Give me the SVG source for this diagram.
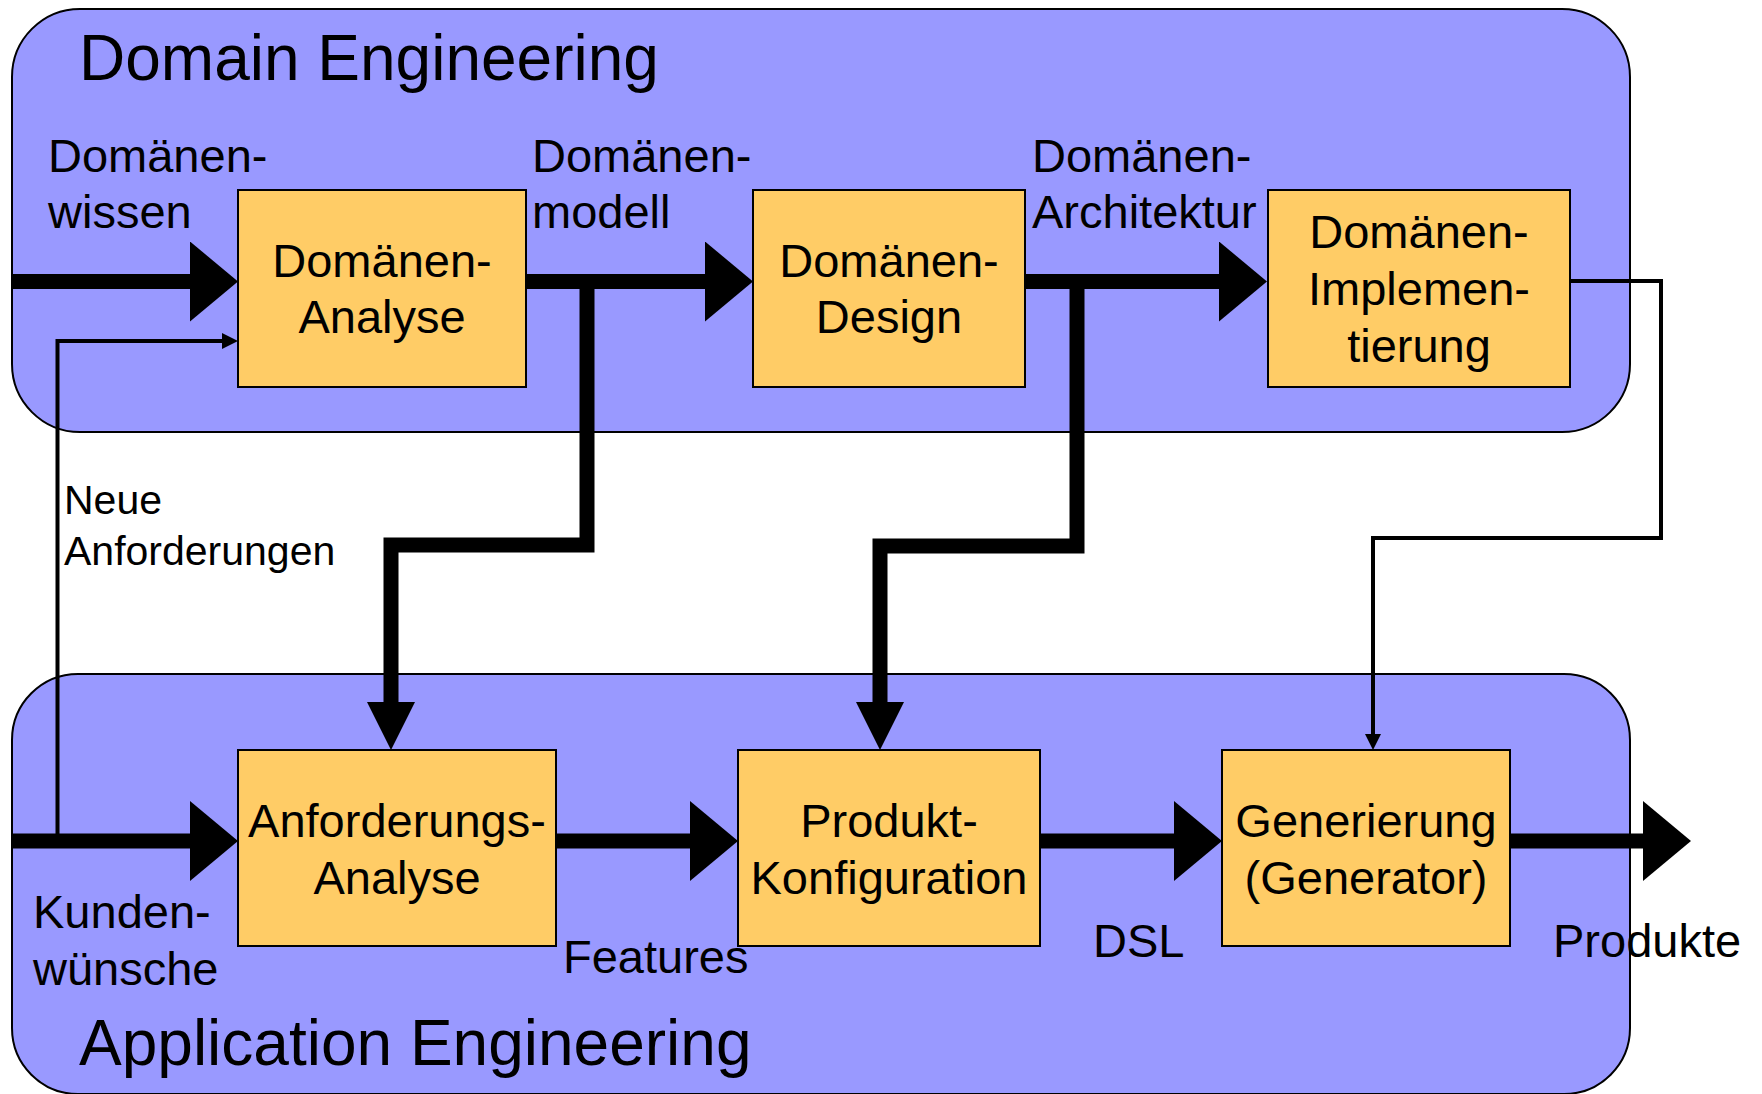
<svg xmlns="http://www.w3.org/2000/svg" width="1762" height="1094" viewBox="0 0 1762 1094">
  <style>
    text { font-family: "Liberation Sans", Arial, Helvetica, sans-serif; fill: #000; }
    .title { font-size: 64px; }
    .lbl { font-size: 47px; }
    .small { font-size: 41px; }
    .mid { text-anchor: middle; }
    .area { fill: #9999ff; stroke: #000; stroke-width: 2; }
    .box { fill: #ffcc66; stroke: #000; stroke-width: 2; }
    .thick { fill: none; stroke: #000; stroke-width: 15; stroke-linejoin: miter; }
    .thin { fill: none; stroke: #000; stroke-width: 4; stroke-linejoin: miter; }
  </style>
  <defs>
    <!-- big filled arrowhead for the main horizontal flow -->
    <marker id="bigHead" markerUnits="userSpaceOnUse" viewBox="0 0 48 80" markerWidth="48" markerHeight="80" refX="18" refY="40" orient="auto">
      <path d="M0,0 L48,40 L0,80 Z" fill="#000"/>
    </marker>
    <!-- narrower filled arrowhead for the cross-lane links -->
    <marker id="dropHead" markerUnits="userSpaceOnUse" viewBox="0 0 48 48" markerWidth="48" markerHeight="48" refX="18" refY="24" orient="auto">
      <path d="M0,0 L48,24 L0,48 Z" fill="#000"/>
    </marker>
    <!-- small arrowhead for thin lines -->
    <marker id="smallHead" markerUnits="userSpaceOnUse" viewBox="0 0 16 16" markerWidth="16" markerHeight="16" refX="8" refY="8" orient="auto">
      <path d="M0,0 L16,8 L0,16 Z" fill="#000"/>
    </marker>
  </defs>

  <!-- swimlanes -->
  <g id="domain-engineering">
    <rect class="area" x="12" y="9" width="1618" height="423" rx="68" ry="68"/>
    <text class="title" x="79" y="80">Domain Engineering</text>
  </g>
  <g id="application-engineering">
    <rect class="area" x="12" y="674" width="1618" height="420" rx="66" ry="66"/>
    <text class="title" x="79" y="1065">Application Engineering</text>
  </g>

  <!-- connectors -->
  <g id="connectors">
    <path class="thick" d="M12,281.5 H208" marker-end="url(#bigHead)"/>
    <path class="thick" d="M526,281.5 H723" marker-end="url(#bigHead)"/>
    <path class="thick" d="M1025,281.5 H1237" marker-end="url(#bigHead)"/>
    <path class="thick" d="M587,281.5 V545 H391 V720" marker-end="url(#dropHead)"/>
    <path class="thick" d="M1077,281.5 V546 H880 V720" marker-end="url(#dropHead)"/>
    <path class="thin" d="M1570,281 H1661 V538 H1373 V742" marker-end="url(#smallHead)"/>
    <path class="thick" d="M12,841 H208" marker-end="url(#bigHead)"/>
    <path class="thin" d="M57.5,841 V341 H230" marker-end="url(#smallHead)"/>
    <path class="thick" d="M556,841 H708" marker-end="url(#bigHead)"/>
    <path class="thick" d="M1040,841 H1192" marker-end="url(#bigHead)"/>
    <path class="thick" d="M1510,841 H1661" marker-end="url(#bigHead)"/>
  </g>

  <!-- connector labels -->
  <g id="labels">
    <text class="lbl" x="48" y="172">Domänen-</text>
    <text class="lbl" x="48" y="228">wissen</text>
    <text class="lbl" x="532" y="172">Domänen-</text>
    <text class="lbl" x="532" y="228">modell</text>
    <text class="lbl" x="1032" y="172">Domänen-</text>
    <text class="lbl" x="1032" y="228">Architektur</text>
    <text class="small" x="64" y="514">Neue</text>
    <text class="small" x="64" y="565">Anforderungen</text>
    <text class="lbl" x="33" y="928">Kunden-</text>
    <text class="lbl" x="33" y="985">wünsche</text>
    <text class="lbl" x="563" y="973">Features</text>
    <text class="lbl" x="1093" y="957">DSL</text>
    <text class="lbl" x="1553" y="957">Produkte</text>
  </g>

  <!-- process steps -->
  <g id="domaenen-analyse">
    <rect class="box" x="238" y="190" width="288" height="197"/>
    <text class="lbl mid" x="382" y="277">Domänen-</text>
    <text class="lbl mid" x="382" y="333">Analyse</text>
  </g>
  <g id="domaenen-design">
    <rect class="box" x="753" y="190" width="272" height="197"/>
    <text class="lbl mid" x="889" y="277">Domänen-</text>
    <text class="lbl mid" x="889" y="333">Design</text>
  </g>
  <g id="domaenen-implementierung">
    <rect class="box" x="1268" y="190" width="302" height="197"/>
    <text class="lbl mid" x="1419" y="248">Domänen-</text>
    <text class="lbl mid" x="1419" y="305">Implemen-</text>
    <text class="lbl mid" x="1419" y="362">tierung</text>
  </g>
  <g id="anforderungs-analyse">
    <rect class="box" x="238" y="750" width="318" height="196"/>
    <text class="lbl mid" x="397" y="837">Anforderungs-</text>
    <text class="lbl mid" x="397" y="894">Analyse</text>
  </g>
  <g id="produkt-konfiguration">
    <rect class="box" x="738" y="750" width="302" height="196"/>
    <text class="lbl mid" x="889" y="837">Produkt-</text>
    <text class="lbl mid" x="889" y="894">Konfiguration</text>
  </g>
  <g id="generierung">
    <rect class="box" x="1222" y="750" width="288" height="196"/>
    <text class="lbl mid" x="1366" y="837">Generierung</text>
    <text class="lbl mid" x="1366" y="894">(Generator)</text>
  </g>
</svg>
